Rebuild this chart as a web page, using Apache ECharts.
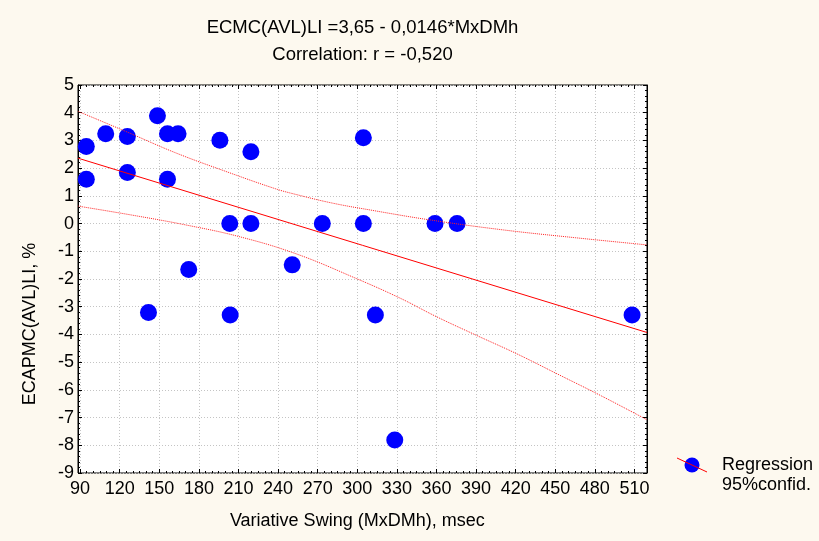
<!DOCTYPE html>
<html>
<head>
<meta charset="utf-8">
<script src="https://cdn.jsdelivr.net/npm/echarts@6/dist/echarts.min.js"></script>
<style>
html,body{margin:0;padding:0;background:#fdf9ef;}
#chart{width:819px;height:541px;}
</style>
</head>
<body>
<div id="chart"></div>
<script>
// ---- texts ----
const titleText = 'ECMC(AVL)LI =3,65 - 0,0146*MxDMh';
const subTitleText = 'Correlation: r = -0,520';
const xAxisTitle = 'Variative Swing (MxDMh), msec';
const yAxisTitle = 'ECAPMC(AVL)LI, %';
const legendNames = ['Regression', '95%confid.'];

// ---- axes ----
const xRange = [88.4, 519.5];      // full extent of the plot frame
const xTickRange = [90, 510];      // first / last labelled tick
const xTickStep = 30;
const yRange = [-9, 5];
const yTickStep = 1;

// ---- observations ----
const swingX = [94.7, 94.7, 109.4, 125.8, 125.8, 148.6, 156.2, 164.2, 156.2, 195.9,
                219.4, 304.6, 203.4, 219.4, 273.5, 304.6, 358.9, 375.6, 172.3, 250.7,
                141.8, 203.7, 313.7, 328.4, 508.2];
const ecapY  = [2.78, 1.60, 3.24, 3.14, 1.84, 3.89, 3.24, 3.24, 1.60, 3.01,
                2.59, 3.10, 0, 0, 0, 0, 0, 0, -1.66, -1.49,
                -3.21, -3.30, -3.30, -7.81, -3.30];

// ---- regression line (read at the frame edges) ----
const regX = [88.4, 519.5];
const regY = [2.36, -3.93];

// ---- 95% confidence band ----
const upperX = [88.4, 125.8, 162.5, 200.5, 238.4, 253.6, 281.0, 309.8, 355.3, 410.8, 465.0, 519.5];
const upperY = [4.05, 3.30, 2.55, 1.88, 1.25, 1.05, 0.74, 0.49, 0.13, -0.23, -0.51, -0.77];
const lowerX = [88.4, 130.0, 170.1, 210.5, 253.6, 299.6, 332.4, 360.0, 390.6, 420.9, 451.3, 485.0, 519.5];
const lowerY = [0.63, 0.30, -0.05, -0.47, -1.09, -1.99, -2.69, -3.36, -4.04, -4.70, -5.42, -6.22, -7.08];

const pairs = (xs, ys) => xs.map((x, i) => [x, ys[i]]);

const FONT = "'Liberation Sans', Arial, sans-serif";
const txt = {color: '#000', fontFamily: FONT, fontSize: 18, fontWeight: 'normal'};
const titleTxt = Object.assign({}, txt, {fontSize: 18.5});

// plot frame
const G = {left: 78, top: 85, width: 569, height: 388};
const pxPerX = G.width / (xRange[1] - xRange[0]);
const G2 = {
  left: G.left + (xTickRange[0] - xRange[0]) * pxPerX,
  width: (xTickRange[1] - xTickRange[0]) * pxPerX,
  top: G.top, height: G.height
};

const gridLine = {show: true, lineStyle: {color: '#c4c4c4', width: 1, type: [1, 2]}};
const tickStyle = {color: '#000', width: 1};

const chart = echarts.init(document.getElementById('chart'), null, {renderer: 'canvas'});
chart.setOption({
  backgroundColor: '#fdf9ef',
  animation: false,
  textStyle: {fontFamily: FONT},
  title: [
    {text: titleText, left: G.left + G.width / 2, textAlign: 'center', top: 18, padding: 0, textStyle: titleTxt},
    {text: subTitleText, left: G.left + G.width / 2, textAlign: 'center', top: 45, padding: 0, textStyle: titleTxt}
  ],
  grid: [
    {left: G.left, top: G.top, width: G.width, height: G.height, show: true,
     backgroundColor: 'transparent', borderColor: '#000', borderWidth: 1, containLabel: false},
    {left: G2.left, top: G2.top, width: G2.width, height: G2.height, show: false, containLabel: false}
  ],
  xAxis: [
    {gridIndex: 0, type: 'value', min: xRange[0], max: xRange[1], show: false},
    {gridIndex: 1, type: 'value', min: xTickRange[0], max: xTickRange[1], interval: xTickStep,
     position: 'bottom',
     axisLine: {show: false, onZero: false},
     axisTick: {show: true, inside: true, length: 4, lineStyle: tickStyle},
     minorTick: {show: true, splitNumber: 6, length: 2, lineStyle: tickStyle},
     axisLabel: Object.assign({margin: 7, showMinLabel: true, showMaxLabel: true}, txt),
     splitLine: gridLine,
     name: xAxisTitle, nameLocation: 'middle', nameGap: 39, nameTextStyle: txt},
    {gridIndex: 1, type: 'value', min: xTickRange[0], max: xTickRange[1], interval: xTickStep,
     position: 'top',
     axisLine: {show: false, onZero: false},
     axisTick: {show: true, inside: true, length: 4, lineStyle: tickStyle},
     minorTick: {show: true, splitNumber: 6, length: 2, lineStyle: tickStyle},
     axisLabel: {show: false}, splitLine: {show: false}}
  ],
  yAxis: [
    {gridIndex: 0, type: 'value', min: yRange[0], max: yRange[1], interval: yTickStep,
     position: 'left',
     axisLine: {show: true, onZero: false, lineStyle: {color: '#000', width: 1}},
     axisTick: {show: true, inside: true, length: 4, lineStyle: tickStyle},
     minorTick: {show: true, splitNumber: 5, length: 2, lineStyle: tickStyle},
     axisLabel: Object.assign({margin: 4}, txt),
     splitLine: gridLine},
    {gridIndex: 0, type: 'value', min: yRange[0], max: yRange[1], interval: yTickStep,
     position: 'right',
     axisLine: {show: true, onZero: false, lineStyle: {color: '#000', width: 1}},
     axisTick: {show: true, inside: true, length: 4, lineStyle: tickStyle},
     minorTick: {show: true, splitNumber: 5, length: 2, lineStyle: tickStyle},
     axisLabel: {show: false}, splitLine: {show: false}},
    {gridIndex: 1, type: 'value', min: yRange[0], max: yRange[1], show: false}
  ],
  legend: {
    orient: 'vertical', left: 667, top: 455, itemWidth: 50, itemHeight: 15, itemGap: 0,
    selectedMode: false, padding: 0,
    textStyle: Object.assign({lineHeight: 20}, txt),
    data: [
      {name: legendNames[0], icon: 'circle', itemStyle: {color: '#0000ff'}},
      {name: legendNames[1], icon: 'rect', itemStyle: {opacity: 0}, lineStyle: {opacity: 0}}
    ]
  },
  graphic: [
    {type: 'rect', z: -10, silent: true,
     shape: {x: G.left, y: G.top, width: G.width, height: G.height},
     style: {fill: '#ffffff'}},
    {type: 'text', x: 30, y: 324, rotation: Math.PI / 2,
     style: {text: yAxisTitle, fill: '#000', font: '18px ' + FONT, align: 'center', verticalAlign: 'middle'}},
    {type: 'line', z: 100, shape: {x1: 677, y1: 458, x2: 707, y2: 472},
     style: {stroke: '#ff0000', lineWidth: 1}}
  ],
  series: [
    {name: legendNames[0], type: 'scatter', xAxisIndex: 0, yAxisIndex: 0,
     data: pairs(swingX, ecapY), symbol: 'circle', symbolSize: 17,
     itemStyle: {color: '#0000ff', opacity: 1}, z: 3, silent: true},
    {name: 'fit', type: 'line', xAxisIndex: 0, yAxisIndex: 0, data: pairs(regX, regY),
     symbol: 'none', lineStyle: {color: '#ff0000', width: 1}, z: 4, silent: true},
    {name: legendNames[1], type: 'line', xAxisIndex: 0, yAxisIndex: 0, data: pairs(upperX, upperY),
     symbol: 'none', smooth: 0.4, lineStyle: {color: '#ff2020', width: 1, type: [1, 1]}, z: 4, silent: true},
    {name: legendNames[1], type: 'line', xAxisIndex: 0, yAxisIndex: 0, data: pairs(lowerX, lowerY),
     symbol: 'none', smooth: 0.4, lineStyle: {color: '#ff2020', width: 1, type: [1, 1]}, z: 4, silent: true}
  ]
});
</script>
</body>
</html>
